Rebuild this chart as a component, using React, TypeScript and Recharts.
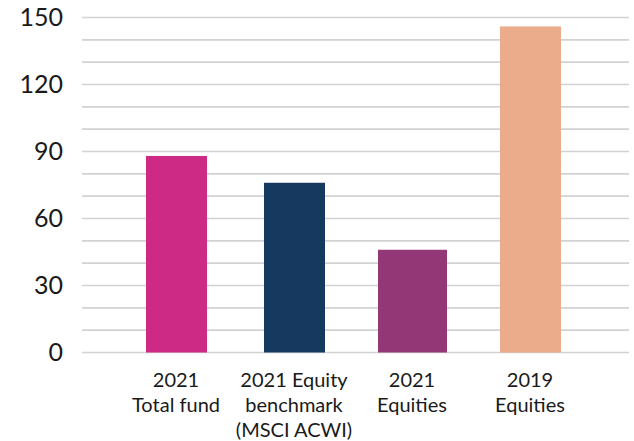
import React from "react";
import { BarChart, Bar, XAxis, YAxis, CartesianGrid, Cell } from "recharts";

const categories = ["2021 Total fund", "2021 Equity benchmark (MSCI ACWI)", "2021 Equities", "2019 Equities"];
const categoryLines = [
  ["2021", "Total fund"],
  ["2021 Equity", "benchmark", "(MSCI ACWI)"],
  ["2021", "Equities"],
  ["2019", "Equities"],
];
const values = [88, 76, 46, 146];
const barColors = ["#CC2A85", "#163A5F", "#933777", "#EAAC8B"];
const gridTicks = [0, 10, 20, 30, 40, 50, 60, 70, 80, 90, 100, 110, 120, 130, 140, 150];
const labelledTicks = [0, 30, 60, 90, 120, 150];

const data = categories.map((c, i) => ({ name: c, value: values[i], idx: i }));

const FONT = "Lato, 'Open Sans', sans-serif";

const XTick = (props: any) => {
  const { x, y, payload } = props;
  const lines = categoryLines[payload.index] || [payload.value];
  return (
    <text x={x} y={y} textAnchor="middle" fill="#1a1a1a" fontSize={20} fontFamily={FONT}>
      {lines.map((l: string, i: number) => (
        <tspan key={i} x={x} dy={i === 0 ? 26 : 25}>
          {l}
        </tspan>
      ))}
    </text>
  );
};

const BarShape = (props: any) => {
  const { x, y, width, height, fill, index } = props;
  const extra = index === 2 ? 8 : 0;
  return <rect x={x - extra / 2} y={y} width={width + extra} height={height} fill={fill} />;
};

export default function App() {
  return (
    <div style={{ position: "absolute", left: 0, top: 0, background: "#fff" }}>
      <BarChart
        width={634}
        height={441}
        data={data}
        margin={{ top: 17.5, right: 5, bottom: 0, left: 0 }}
        style={{ overflow: "visible" }}
      >
        <CartesianGrid vertical={false} stroke="#d2d2d2" strokeWidth={1.6} horizontalValues={gridTicks} />
        <XAxis
          dataKey="name"
          axisLine={false}
          tickLine={false}
          tick={<XTick />}
          interval={0}
          height={88.5}
          padding={{ left: 35, right: 40 }}
        />
        <YAxis
          domain={[0, 150]}
          ticks={gridTicks}
          interval={0}
          axisLine={false}
          tickLine={false}
          tickSize={0}
          tickMargin={19}
          width={82}
          tickFormatter={(v: number) => (labelledTicks.includes(v) ? String(v) : "")}
          tick={{ fill: "#1a1a1a", fontSize: 25, fontFamily: FONT }}
        />
        <Bar dataKey="value" isAnimationActive={false} barSize={61} shape={<BarShape />}>
          {data.map((d, i) => (
            <Cell key={i} fill={barColors[i]} />
          ))}
        </Bar>
      </BarChart>
    </div>
  );
}
